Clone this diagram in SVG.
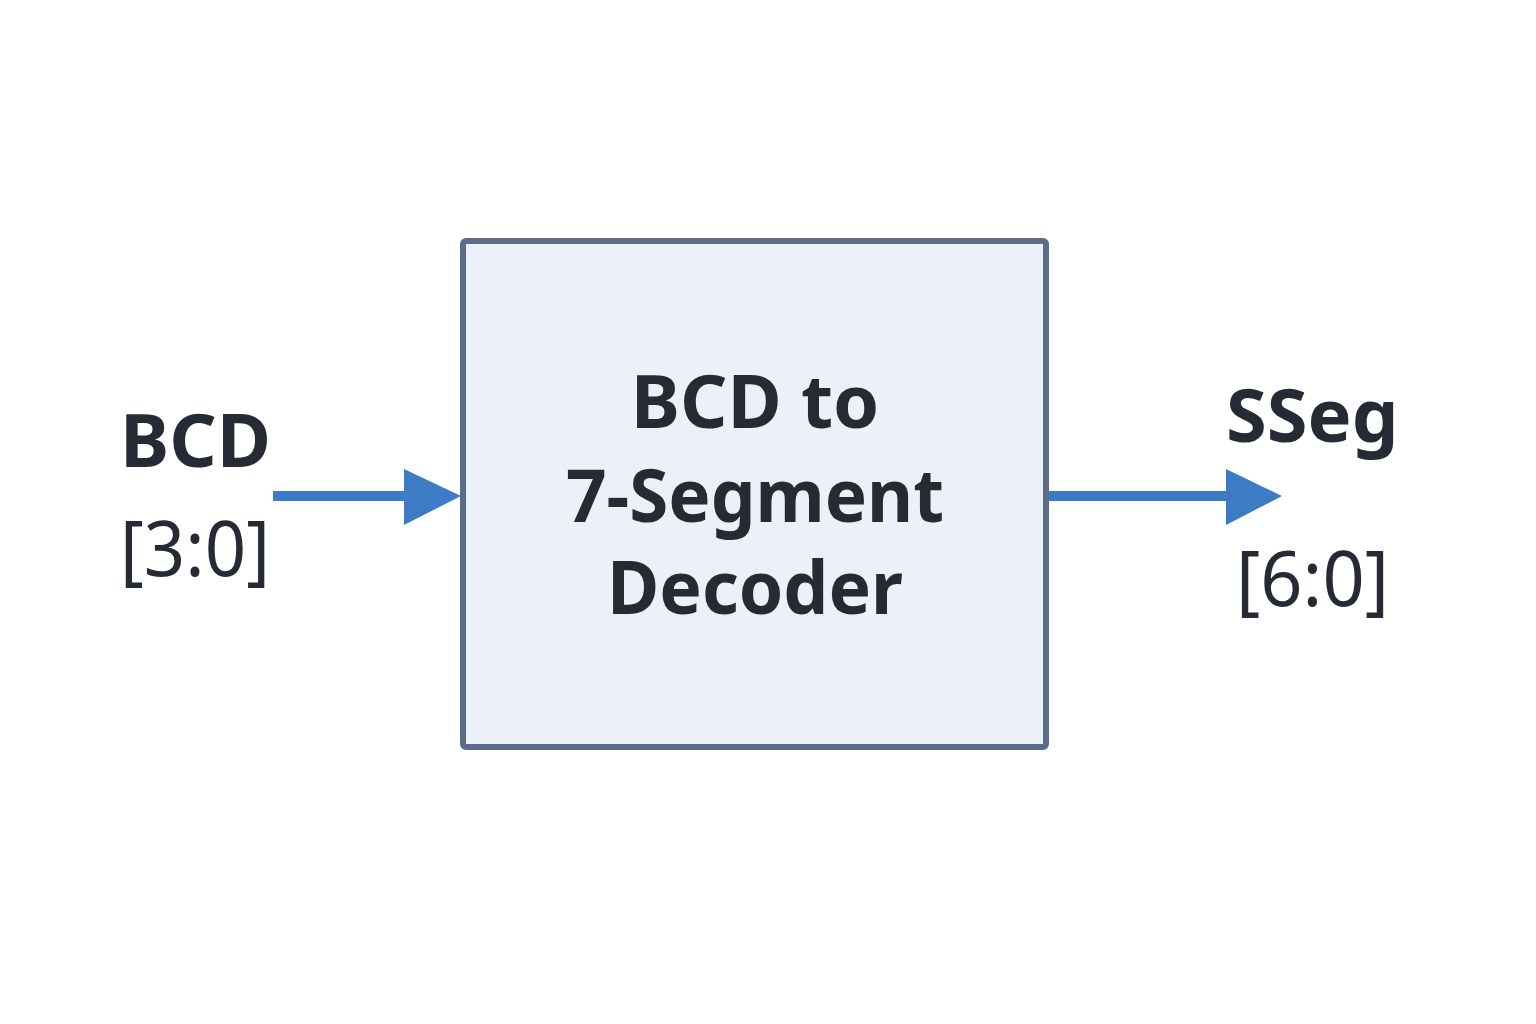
<svg xmlns="http://www.w3.org/2000/svg" width="1536" height="1024" viewBox="0 0 1536 1024">
<style>
.t{font-family:"Noto Sans","Open Sans","Liberation Sans",sans-serif;fill:#262a35}
.b{font-weight:bold}
.r{font-weight:normal}
.w{stroke:#3d7cc4;stroke-width:10;fill:none}
.h{fill:#3d7cc4}
</style>
<rect width="1536" height="1024" fill="#ffffff"/>
<g id="decoder">
<rect x="463" y="241" width="583" height="506" rx="3" fill="#ecf0f8" stroke="#5a6c88" stroke-width="6"/>
<text class="t b" x="755" y="428" font-size="74" text-anchor="middle">BCD to</text>
<text class="t b" x="755" y="522" font-size="74" text-anchor="middle" textLength="378" lengthAdjust="spacingAndGlyphs">7-Segment</text>
<text class="t b" x="755" y="614" font-size="74" text-anchor="middle" textLength="296" lengthAdjust="spacingAndGlyphs">Decoder</text>
</g>
<g id="input">
<text class="t b" x="120" y="467" font-size="74">BCD</text>
<text class="t r" x="120" y="576" font-size="76" textLength="150" lengthAdjust="spacingAndGlyphs">[3:0]</text>
</g>
<g id="output">
<text class="t b" x="1226" y="442" font-size="74">SSeg</text>
<text class="t r" x="1236" y="606" font-size="76" textLength="153" lengthAdjust="spacingAndGlyphs">[6:0]</text>
</g>
<g id="connectors">
<line class="w" x1="273" y1="496" x2="408" y2="496"/>
<polygon class="h" points="404,469 461,496 404,525"/>
<line class="w" x1="1049" y1="496" x2="1230" y2="496"/>
<polygon class="h" points="1226,469 1282,496 1226,525"/>
</g>
</svg>
